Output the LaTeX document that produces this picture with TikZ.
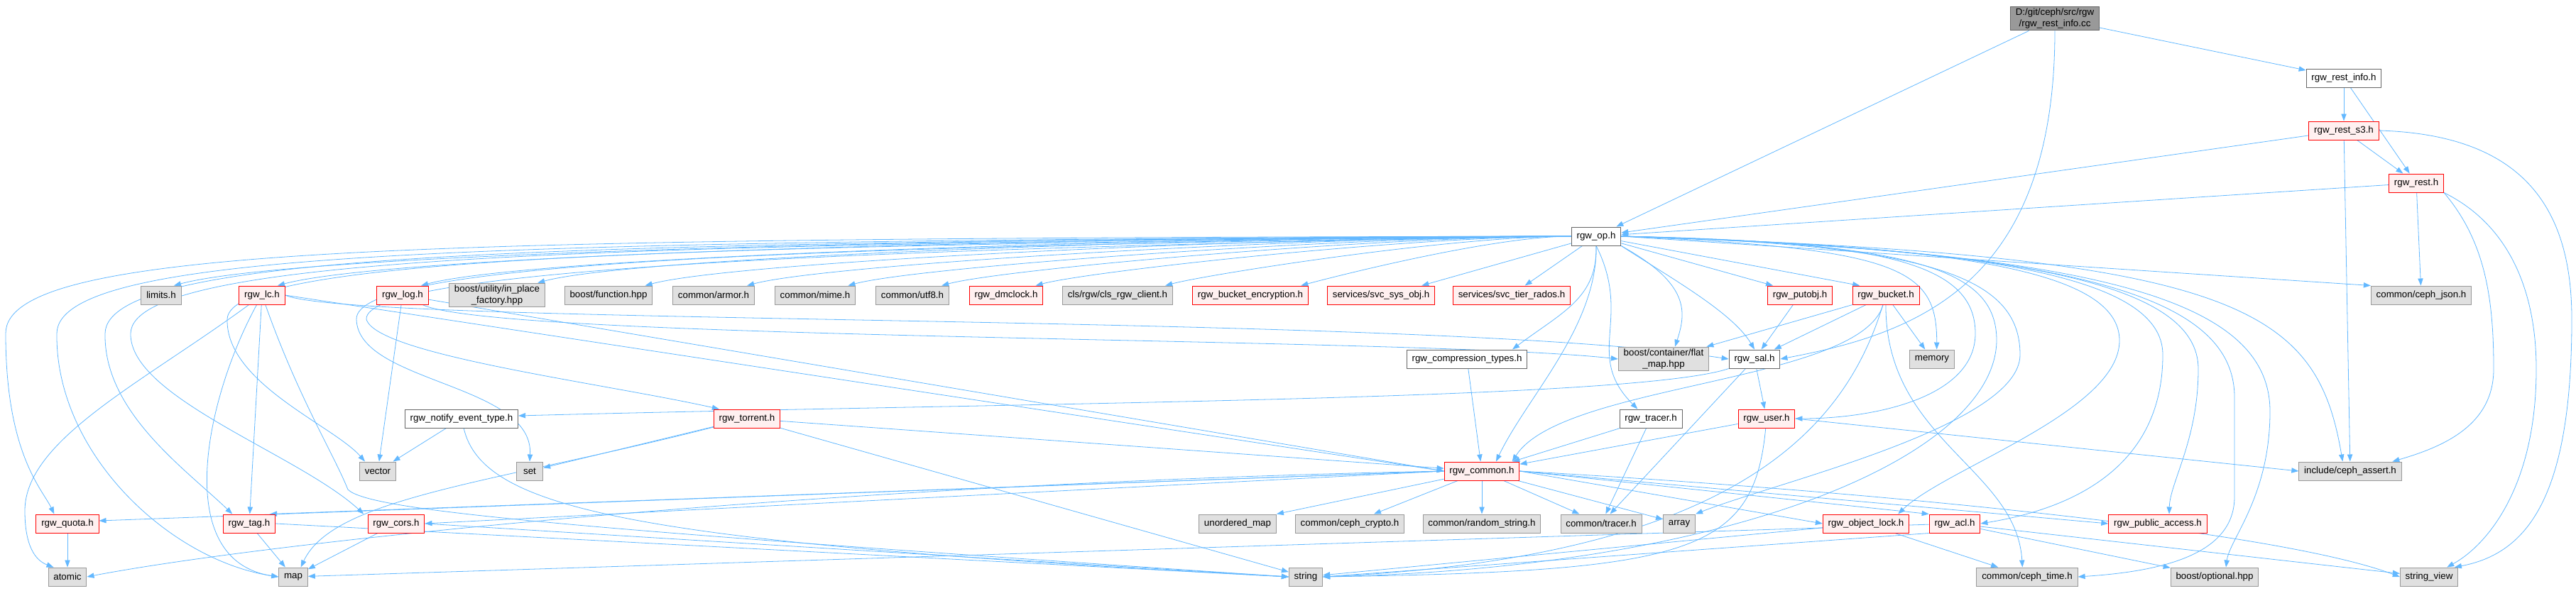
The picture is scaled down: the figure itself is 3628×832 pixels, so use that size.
\documentclass[tikz,border=0pt]{standalone}
\usepackage{fontspec}
\setmainfont{Liberation Sans}
\usetikzlibrary{arrows.meta,backgrounds}

\definecolor{edgeblue}{HTML}{63B8FF}
\definecolor{extfill}{HTML}{E0E0E0}
\definecolor{extline}{HTML}{999999}
\definecolor{truncfill}{HTML}{FFF0F0}
\definecolor{truncline}{HTML}{FF0000}
\definecolor{hdrline}{HTML}{666666}
\definecolor{srcfill}{HTML}{999999}

\begin{document}
\begin{tikzpicture}[
  x=0.75pt, y=0.75pt,
  font=\fontsize{10}{12}\selectfont,
  filebox/.style={draw, rectangle, minimum height=19.5pt, minimum width=28pt, inner xsep=5.5pt, inner ysep=2pt, line width=0.75pt, align=center},
  hdr/.style={filebox, draw=hdrline, fill=white},
  trunc/.style={filebox, draw=truncline, fill=truncfill},
  ext/.style={filebox, draw=extline, fill=extfill},
  srcf/.style={filebox, draw=hdrline, fill=srcfill},
  dep/.style={draw=edgeblue, line width=0.6pt, -{Triangle[length=7.5pt,width=5.5pt]}}
]
\useasboundingbox (0,0) rectangle (3628,-832);

% the source file and the rest headers
\node[srcf]  (cc)       at (2894,-26)  {D:/git/ceph/src/rgw\\/rgw\_rest\_info.cc};
\node[hdr]   (restinfo) at (3301,-110) {rgw\_rest\_info.h};
\node[trunc] (rests3)   at (3301,-184) {rgw\_rest\_s3.h};
\node[trunc] (rest)     at (3403,-258) {rgw\_rest.h};
\node[hdr]   (op)       at (2248,-333) {rgw\_op.h};

% first row
\node[ext]   (limits)    at (227,-416)  {limits.h};
\node[trunc] (lc)        at (369,-416)  {rgw\_lc.h};
\node[trunc] (log)       at (567,-416)  {rgw\_log.h};
\node[ext]   (inplace)   at (700,-416)  {boost/utility/in\_place\\\_factory.hpp};
\node[ext]   (function)  at (857,-416)  {boost/function.hpp};
\node[ext]   (armor)     at (1005,-416) {common/armor.h};
\node[ext]   (mime)      at (1148,-416) {common/mime.h};
\node[ext]   (utf8)      at (1285,-416) {common/utf8.h};
\node[trunc] (dmclock)   at (1417,-416) {rgw\_dmclock.h};
\node[ext]   (clsclient) at (1574,-416) {cls/rgw/cls\_rgw\_client.h};
\node[trunc] (bucketenc) at (1761,-416) {rgw\_bucket\_encryption.h};
\node[trunc] (sysobj)    at (1945,-416) {services/svc\_sys\_obj.h};
\node[trunc] (tierrados) at (2129,-416) {services/svc\_tier\_rados.h};
\node[trunc] (putobj)    at (2535,-416) {rgw\_putobj.h};
\node[trunc] (bucket)    at (2656,-416) {rgw\_bucket.h};
\node[ext]   (cephjson)  at (3410,-416) {common/ceph\_json.h};

% second row
\node[hdr]   (compression) at (2066,-506) {rgw\_compression\_types.h};
\node[ext]   (flatmap)     at (2343,-506) {boost/container/flat\\\_map.hpp};
\node[hdr]   (sal)         at (2471,-506) {rgw\_sal.h};
\node[ext]   (memory)      at (2721,-506) {memory};

% third row
\node[hdr]   (notify)  at (650,-590)  {rgw\_notify\_event\_type.h};
\node[trunc] (torrent) at (1052,-590) {rgw\_torrent.h};
\node[hdr]   (tracer)  at (2325,-590) {rgw\_tracer.h};
\node[trunc] (user)    at (2488,-590) {rgw\_user.h};

% fourth row
\node[ext]   (vector) at (532,-664)  {vector};
\node[ext]   (set)    at (746,-664)  {set};
\node[trunc] (common) at (2087,-664) {rgw\_common.h};
\node[ext]   (assert) at (3310,-664) {include/ceph\_assert.h};

% fifth row
\node[trunc] (quota)        at (95,-738)   {rgw\_quota.h};
\node[trunc] (tag)          at (351,-738)  {rgw\_tag.h};
\node[trunc] (cors)         at (558,-738)  {rgw\_cors.h};
\node[ext]   (unorderedmap) at (1743,-738) {unordered\_map};
\node[ext]   (cryptoh)      at (1901,-738) {common/ceph\_crypto.h};
\node[ext]   (randomstr)    at (2087,-738) {common/random\_string.h};
\node[ext]   (tracerh)      at (2255,-738) {common/tracer.h};
\node[ext]   (array)        at (2365,-738) {array};
\node[trunc] (objlock)      at (2628,-738) {rgw\_object\_lock.h};
\node[trunc] (acl)          at (2753,-738) {rgw\_acl.h};
\node[trunc] (publicaccess) at (3039,-738) {rgw\_public\_access.h};

% bottom row
\node[ext] (atomic)     at (95,-813)   {atomic};
\node[ext] (map)        at (413,-813)  {map};
\node[ext] (string)     at (1839,-813) {string};
\node[ext] (cephtime)   at (2855,-813) {common/ceph\_time.h};
\node[ext] (optional)   at (3119,-813) {boost/optional.hpp};
\node[ext] (stringview) at (3421,-813) {string\_view};

\begin{scope}[on background layer]
% source file
\draw[dep] (cc) -- (op);
\draw[dep] (cc) -- (restinfo);
\draw[dep] (cc.south) .. controls (2894,-400) and (2700,-470) .. (sal.east);

% rest headers
\draw[dep] (restinfo) -- (rests3);
\draw[dep] (restinfo) -- (rest);
\draw[dep] (rests3) -- (rest);
\draw[dep] (rests3) -- (op);
\draw[dep] (rests3) -- (assert);
\draw[dep] (rests3.east) .. controls (3560,-190) and (3622,-300) .. (3622,-450) .. controls (3622,-700) and (3560,-780) .. ([xshift=-4pt]stringview.north east);
\draw[dep] (rest) -- (op);
\draw[dep] (rest) -- (cephjson);
\draw[dep] (rest.south east) .. controls (3500,-340) and (3512,-420) .. (3512,-520) .. controls (3512,-600) and (3440,-630) .. ([xshift=-10pt]assert.north east);
\draw[dep] (rest.south east) .. controls (3540,-320) and (3572,-420) .. (3572,-520) .. controls (3572,-690) and (3500,-770) .. ([xshift=-12pt]stringview.north east);

% rgw_op.h, first row
\foreach \t/\d in {limits/1953,lc/1808,log/1606,inplace/1442,function/1291,armor/1147,mime/1005,utf8/873,dmclock/741,clsclient/558,bucketenc/368}
  \draw[dep] (op.west) .. controls +(-0.31*\d,0) and +(0.1*\d,0.027*\d) .. ([xshift=-8pt]\t.north east);
\draw[dep] (op) -- ([xshift=-14pt]sysobj.north east);
\draw[dep] (op) -- ([xshift=14pt]tierrados.north);

% rgw_op.h, down the left side
\draw[dep] (op.west) .. controls (600,-336) and (8,-345) .. (8,-470) .. controls (8,-640) and (60,-690) .. ([xshift=-14pt]quota.north);
\draw[dep] (op.west) .. controls (700,-340) and (82,-350) .. (80,-470) .. controls (78,-640) and (240,-790) .. (map.west);
\draw[dep] (op.west) .. controls (800,-342) and (150,-352) .. (148,-470) .. controls (146,-580) and (260,-660) .. ([xshift=10pt]tag.north west);
\draw[dep] (op.west) .. controls (900,-344) and (186,-356) .. (184,-470) .. controls (182,-560) and (420,-640) .. ([xshift=-4pt]cors.north west);
\draw[dep] (op.west) .. controls (1000,-346) and (322,-360) .. (320,-450) .. controls (318,-540) and (470,-600) .. ([xshift=6pt]vector.north west);
\draw[dep] (op.west) .. controls (1100,-348) and (500,-370) .. (502,-450) .. controls (504,-540) and (752,-540) .. (set.north);
\draw[dep] (op.west) .. controls (1200,-350) and (512,-380) .. (516,-450) .. controls (530,-500) and (850,-540) .. ([xshift=6pt]torrent.north west);

% rgw_op.h, straight down
\draw[dep] (op.south) .. controls (2250,-420) and (2200,-440) .. ([xshift=48pt]compression.north);
\draw[dep] (op.south) .. controls (2250,-460) and (2150,-560) .. ([xshift=15pt]common.north);
\draw[dep] (op.south) .. controls (2300,-450) and (2230,-500) .. ([xshift=-14pt]tracer.north);
\draw[dep] (op.south east) .. controls (2380,-400) and (2375,-440) .. ([xshift=12pt]flatmap.north);
\draw[dep] (op.south east) .. controls (2350,-390) and (2440,-440) .. (sal.north);

% rgw_op.h, to the right
\draw[dep] (op) -- ([xshift=6pt]putobj.north west);
\draw[dep] (op) -- ([xshift=8pt]bucket.north west);
\draw[dep] (op.east) -- (cephjson.north west);
\draw[dep] (op.east) .. controls (2680,-350) and (2728,-380) .. ([xshift=5pt]memory.north);
\draw[dep] (op.east) .. controls (2650,-340) and (2782,-370) .. (2782,-470) .. controls (2782,-560) and (2640,-590) .. (user.east);
\draw[dep] (op.east) .. controls (2700,-342) and (2812,-380) .. (2812,-480) .. controls (2810,-640) and (2450,-800) .. (string.east);
\draw[dep] (op.east) .. controls (2720,-344) and (2845,-390) .. (2845,-500) .. controls (2845,-600) and (2500,-680) .. (array.north east);
\draw[dep] (op.east) .. controls (2750,-346) and (2985,-380) .. (2985,-480) .. controls (2985,-580) and (2740,-660) .. ([xshift=-12pt]objlock.north east);
\draw[dep] (op.east) .. controls (2800,-348) and (3046,-390) .. (3046,-500) .. controls (3046,-670) and (2900,-720) .. (acl.east);
\draw[dep] (op.east) .. controls (2850,-350) and (3096,-400) .. (3096,-520) .. controls (3096,-620) and (3056,-680) .. ([xshift=12pt]publicaccess.north);
\draw[dep] (op.east) .. controls (2900,-352) and (3147,-410) .. (3147,-560) -- (3147,-700) .. controls (3147,-780) and (3050,-805) .. (cephtime.east);
\draw[dep] (op.east) .. controls (2950,-354) and (3197,-420) .. (3197,-580) .. controls (3197,-700) and (3140,-760) .. ([xshift=12pt]optional.north);
\draw[dep] (op.east) .. controls (3150,-360) and (3262,-430) .. ([xshift=-8pt]assert.north);

% rgw_lc.h and rgw_log.h
\draw[dep] (lc) .. controls (200,-540) and (35,-620) .. (35,-720) .. controls (35,-770) and (50,-790) .. ([xshift=6pt]atomic.north west);
\draw[dep] (lc) .. controls (290,-560) and (240,-790) .. (map.west);
\draw[dep] (lc) -- (tag);
\draw[dep] (lc) .. controls (420,-560) and (470,-640) .. (490,-690) .. controls (520,-720) and (800,-745) .. (string.west);
\draw[dep] (lc.east) .. controls (500,-460) and (2000,-440) .. (sal.west);
\draw[dep] (lc.east) -- (common.west);
\draw[dep] (log) -- (vector);
\draw[dep] (log) .. controls (700,-480) and (2000,-475) .. (flatmap.west);
\draw[dep] (log) -- (common.west);

% small headers on the left
\draw[dep] (quota) -- (atomic);
\draw[dep] (tag) -- (map);
\draw[dep] (tag.east) -- (string.west);
\draw[dep] (cors) -- (map);
\draw[dep] (cors.east) -- (string.west);
\draw[dep] (notify) -- (vector);
\draw[dep] (notify) .. controls (680,-720) and (900,-765) .. (string.west);
\draw[dep] (torrent) -- (set);
\draw[dep] (torrent) .. controls (700,-680) and (470,-700) .. ([xshift=8pt]map.north);
\draw[dep] (torrent) -- (string);
\draw[dep] (torrent) -- (common);

% middle headers
\draw[dep] (compression) -- (common);
\draw[dep] (tracer) -- (common);
\draw[dep] (tracer) -- (tracerh);
\draw[dep] (user) -- (common);
\draw[dep] (user) .. controls (2470,-780) and (2380,-805) .. (string.east);
\draw[dep] (user.east) -- (assert.west);
\draw[dep] (sal) -- (user);
\draw[dep] (sal) -- (tracerh);
\draw[dep] (sal.south west) .. controls (2300,-565) and (1400,-568) .. ([yshift=3pt]notify.east);
\draw[dep] (putobj) -- (sal);
\draw[dep] (bucket) -- (flatmap);
\draw[dep] (bucket) -- (sal);
\draw[dep] (bucket) -- (memory);
\draw[dep] (bucket) .. controls (2620,-540) and (2200,-540) .. ([xshift=-8pt]common.north east);
\draw[dep] (bucket) .. controls (2600,-600) and (2450,-785) .. (string.east);
\draw[dep] (bucket) .. controls (2655,-620) and (2840,-660) .. ([xshift=-5pt]cephtime.north);

% rgw_object_lock.h and rgw_acl.h
\draw[dep] (objlock) -- (string);
\draw[dep] (objlock) -- (cephtime);
\draw[dep] (acl.south west) -- (string.east);
\draw[dep] (acl) -- (map);
\draw[dep] (acl) -- (optional);
\draw[dep] (acl) -- (stringview);

% rgw_common.h
\draw[dep] (common.west) -- ([yshift=3pt]quota.east);
\draw[dep] (common.west) -- ([xshift=-6pt]tag.north east);
\draw[dep] (common.west) -- (cors.east);
\draw[dep] (common.west) .. controls (1200,-680) and (400,-760) .. (atomic.east);
\draw[dep] (common) -- (unorderedmap.north east);
\draw[dep] (common) -- (cryptoh);
\draw[dep] (common) -- (randomstr);
\draw[dep] (common) -- (tracerh);
\draw[dep] (common) -- (array);
\draw[dep] (common.east) -- (objlock.west);
\draw[dep] (common.east) -- (acl.north west);
\draw[dep] (common.east) -- (publicaccess.west);
\draw[dep] (common.east) .. controls (2600,-690) and (3200,-745) .. (stringview.west);
\end{scope}
\end{tikzpicture}
\end{document}
